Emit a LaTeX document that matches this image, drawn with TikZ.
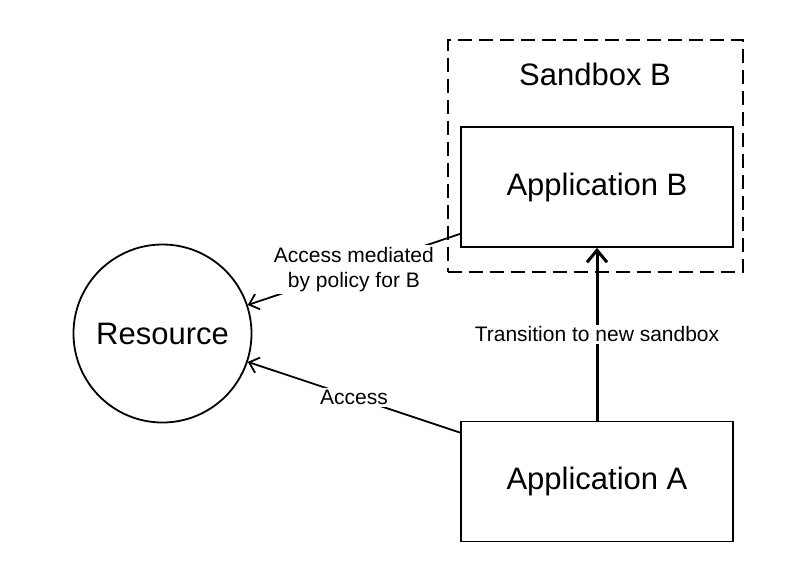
\documentclass[tikz,border=0pt]{standalone}
\usepackage{fontspec}
\setmainfont{Liberation Sans}
\usetikzlibrary{arrows.meta}
\begin{document}
\begin{tikzpicture}[x=1pt, y=-1pt, line width=1.8pt,
  >={Straight Barb[length=9pt,width=16pt]},
  big/.style={font=\fontsize{31}{36}\selectfont},
  box/.style={draw, big, minimum width=272pt, minimum height=120pt, inner sep=0pt},
  lbl/.style={fill=white, inner sep=2pt, align=center, font=\fontsize{21}{25}\selectfont}]
\useasboundingbox (0,0) rectangle (800,568);

\node[draw, line width=2pt, dash pattern=on 14pt off 7pt, minimum width=295pt, minimum height=232pt] (sbx) at (595,155.5) {};
\node[big] (sbxname) at (595,74) {Sandbox B};
\node[box] (appB) at (597,187) {Application B};
\node[box] (appA) at (597,481.5) {Application A};
\node[draw, big, circle, inner sep=0pt, minimum size=178pt] (res) at (162.5,333.5) {Resource};

\draw[->] ([yshift=14pt]appB.south west) -- (res) node[lbl, midway] {Access mediated\\by policy for B};
\draw[->] ([yshift=-12pt]appA.north west) -- (res) node[lbl, midway] {Access};
\draw[-{Straight Barb[length=12pt,width=20pt]}, line width=3pt] (appA) -- (appB) node[lbl, midway] {Transition to new sandbox};
\end{tikzpicture}
\end{document}
